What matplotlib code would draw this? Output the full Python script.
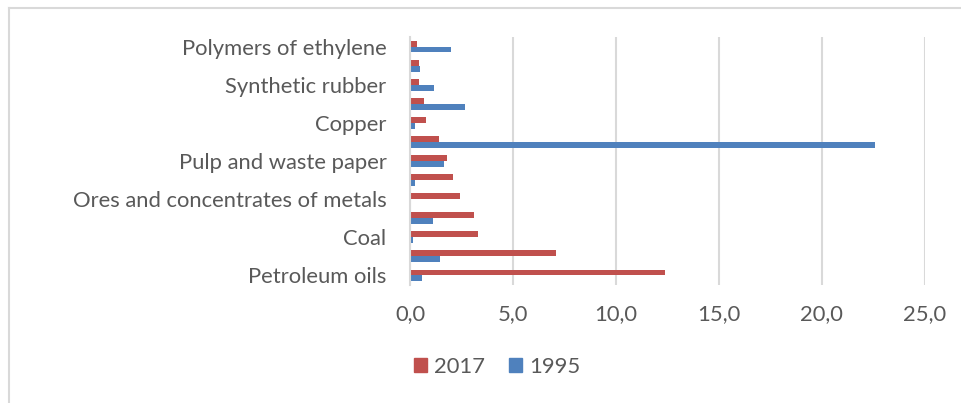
import numpy as np
import matplotlib.pyplot as plt
from matplotlib.lines import Line2D
from matplotlib.patches import Patch

plt.rcParams['font.family'] = ['Lato', 'DejaVu Sans']

# Categories from bottom to top; only every other one carries a label
labels = ["Petroleum oils", "", "Coal", "", "Ores and concentrates of metals", "",
          "Pulp and waste paper", "", "Copper", "", "Synthetic rubber", "",
          "Polymers of ethylene"]
vals_2017 = [12.4, 7.1, 3.3, 3.1, 2.45, 2.1, 1.78, 1.4, 0.76, 0.67, 0.45, 0.45, 0.35]
vals_1995 = [0.58, 1.45, 0.15, 1.1, 0.05, 0.24, 1.65, 22.6, 0.24, 2.67, 1.15, 0.5, 2.0]
xticks = [0, 5, 10, 15, 20, 25]

red = "#C0504D"
blue = "#4F81BD"
text_col = "#595959"
grid_col = "#D9D9D9"

fig = plt.figure(figsize=(9.61, 4.03), dpi=100)
ax = fig.add_axes([410 / 961, 1 - 285 / 403, (924.5 - 410) / 961, (285 - 37) / 403])

y = np.arange(len(labels))
h = 0.31
ax.barh(y + h / 2, vals_2017, height=h, color=red, label="2017")
ax.barh(y - h / 2, vals_1995, height=h, color=blue, label="1995")

ax.set_xlim(0, 25)
ax.set_ylim(-0.5, len(labels) - 0.5)
ax.set_xticks(xticks)
ax.set_xticklabels([f"{v:.1f}".replace(".", ",") for v in xticks])
ax.set_yticks(y)
ax.set_yticklabels(labels)
ax.tick_params(length=0, labelsize=15.8, labelcolor=text_col)
ax.tick_params(axis="x", pad=14)
ax.tick_params(axis="y", pad=17)

ax.grid(axis="x", color=grid_col, linewidth=1.5)
ax.set_axisbelow(True)
for s in ["top", "right", "bottom"]:
    ax.spines[s].set_visible(False)
ax.spines["left"].set_color(grid_col)
ax.spines["left"].set_linewidth(1.5)

handles = [Patch(color=red, label="2017"), Patch(color=blue, label="1995")]
fig.legend(handles=handles, loc="center", bbox_to_anchor=(497 / 961, 1 - 367 / 403),
           ncol=2, frameon=False, fontsize=15.8, labelcolor=text_col,
           handlelength=0.6, handleheight=0.6, handletextpad=0.3, columnspacing=1.1)

# light frame around the chart area (top and left edges)
fig.add_artist(Line2D([9 / 961, 1], [1 - 8 / 403, 1 - 8 / 403], color="#D9D9D9", lw=1.5))
fig.add_artist(Line2D([9 / 961, 9 / 961], [0, 1 - 8 / 403], color="#D9D9D9", lw=1.5))

fig.savefig("out.png", dpi=100, facecolor="white")
